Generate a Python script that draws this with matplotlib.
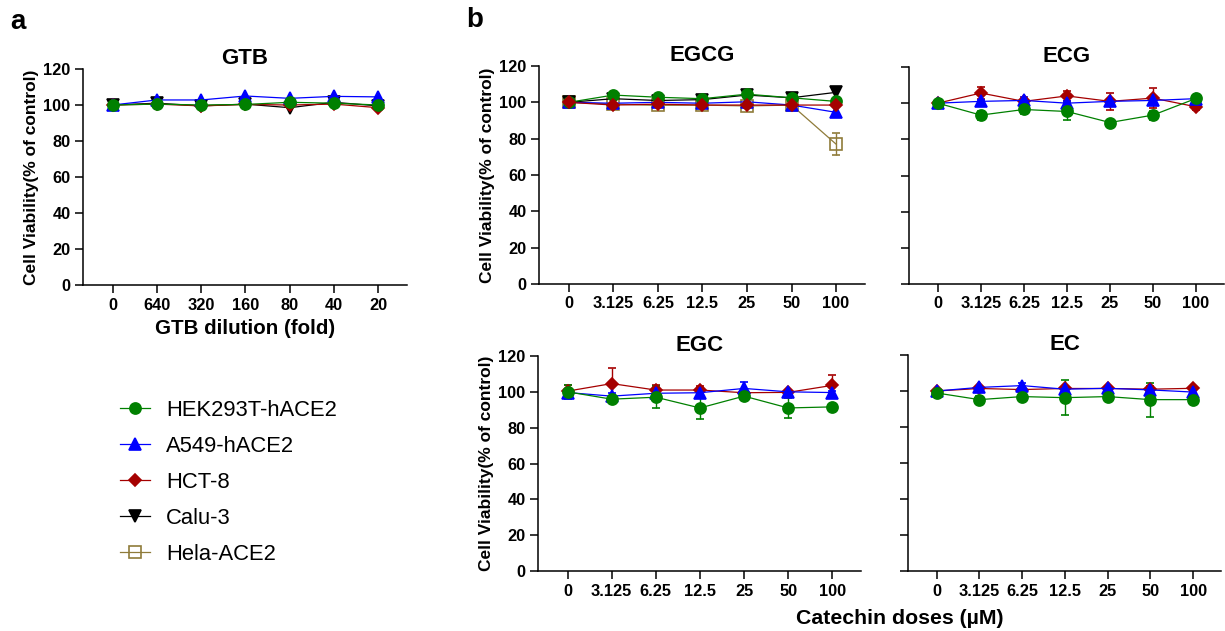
import matplotlib
matplotlib.use("Agg")
import matplotlib.pyplot as plt
import numpy as np

plt.rcParams['font.family'] = ['Liberation Sans', 'DejaVu Sans']

# ---------------------------------------------------------------------------
# data
# ---------------------------------------------------------------------------
gtb_ticks = ['0', '640', '320', '160', '80', '40', '20']
dose_ticks = ['0', '3.125', '6.25', '12.5', '25', '50', '100']

cell_lines = ['HEK293T-hACE2', 'A549-hACE2', 'HCT-8', 'Calu-3', 'Hela-ACE2']

# GTB panel
gtb_hek = [100, 100.5, 100, 100.3, 101.5, 101, 100]
gtb_a549 = [100, 102.8, 102.8, 105, 103.7, 104.8, 104.5]
gtb_hct = [100, 100.5, 99.5, 100.3, 100, 100.5, 98.5]
gtb_calu = [100, 101, 99.5, 100.5, 98.5, 101.5, 99.5]

# EGCG panel
egcg_hek = [100, 104, 102.8, 102, 104.5, 102.5, 100.5]
egcg_a549 = [100, 99.5, 100, 99.5, 100.3, 98.5, 94.5]
egcg_hct = [100, 98.5, 99, 98.5, 98.5, 98.5, 98.5]
egcg_calu = [100, 102, 101, 101.5, 104, 102.5, 105.5]
egcg_hela = [100, 99, 98.3, 98.5, 98, 98.5, 77]
egcg_hela_err = [0, 0, 1, 0, 1, 0, 6]

# ECG panel
ecg_hek = [100, 93.4, 96.5, 95.4, 89.3, 93.4, 102.6]
ecg_hek_err = [1.5, 2.5, 2.5, 4.5, 1, 2.5, 2]
ecg_a549 = [100, 101, 101.5, 100, 101, 101.5, 102.5]
ecg_a549_err = [1, 1, 2, 1, 1, 1, 1]
ecg_hct = [100, 105.6, 101, 104, 101, 102.8, 98]
ecg_hct_err = [1.5, 3.3, 1.5, 2.6, 4.7, 5.5, 2]

# EGC panel
egc_hek = [100, 95.9, 97, 91, 97.6, 91, 91.6]
egc_hek_err = [4, 2, 6, 6.2, 1, 5.7, 1]
egc_a549 = [99.6, 97.6, 99.2, 99.5, 101.9, 100, 99.6]
egc_a549_err = [2, 1.5, 1, 1.5, 3.7, 1, 1]
egc_hct = [100.4, 104.6, 101, 101, 99.5, 99.7, 103.6]
egc_hct_err = [3.6, 8.5, 3, 2.5, 1, 1, 5.9]

# EC panel
ec_hek = [98.9, 95.2, 96.9, 96.3, 96.9, 95.2, 95.2]
ec_hek_err = [1.5, 2, 1, 9.6, 2, 9.4, 1]
ec_a549 = [100, 102, 103, 101, 101.5, 100.6, 99.4]
ec_a549_err = [1, 1, 1.5, 1, 1, 1, 1]
ec_hct = [100, 101.4, 100.8, 101.4, 101.4, 101, 101.5]
ec_hct_err = [1, 1, 1, 1.5, 1, 2, 1]

# ---------------------------------------------------------------------------
# styles
# ---------------------------------------------------------------------------
styles = {
    'HEK293T-hACE2': dict(color='#008000', marker='o', ms=8, mfc='#008000'),
    'A549-hACE2': dict(color='#0000FF', marker='^', ms=8, mfc='#0000FF'),
    'HCT-8': dict(color='#A50000', marker='D', ms=6, mfc='#A50000'),
    'Calu-3': dict(color='#000000', marker='v', ms=8, mfc='#000000'),
    'Hela-ACE2': dict(color='#8F7B3A', marker='s', ms=8.5, mfc='none'),
}

W, H = 1225, 631


def px_axes(fig, left, top, right, bottom):
    return fig.add_axes([left / W, 1 - bottom / H, (right - left) / W, (bottom - top) / H])


def draw(ax, name, vals, err=None, z=2):
    st = styles[name]
    x = np.arange(len(vals))
    ax.errorbar(x, vals, yerr=err, color=st['color'], marker=st['marker'],
                ms=st['ms'], mfc=st['mfc'], mec=st['color'], mew=1.2,
                lw=0.9, elinewidth=1.0, capsize=3, capthick=1.0,
                label=name, zorder=z, clip_on=False)


def style_axes(ax, title, xticks, ylabel=True):
    ax.set_xlim(-0.67, 6.65)
    ax.set_ylim(0, 120)
    ax.set_yticks(range(0, 121, 20))
    ax.set_xticks(range(len(xticks)))
    ax.set_xticklabels(xticks)
    for s in ['top', 'right']:
        ax.spines[s].set_visible(False)
    for s in ['left', 'bottom']:
        ax.spines[s].set_linewidth(1.1)
    ax.tick_params(axis='both', direction='out', length=6, width=1.1,
                   labelsize=11.8, pad=3)
    for lab in ax.get_xticklabels() + ax.get_yticklabels():
        lab.set_fontweight('bold')
    if ylabel:
        ax.set_ylabel('Cell Viability(% of control)', fontsize=12.5,
                      fontweight='bold', labelpad=3)
    else:
        ax.set_yticklabels([])
    ax.set_title(title, fontsize=16, fontweight='bold', pad=2)


fig = plt.figure(figsize=(W / 100, H / 100), dpi=100)

# panel a
ax_a = px_axes(fig, 83, 69, 407, 285)
draw(ax_a, 'Calu-3', gtb_calu)
draw(ax_a, 'HCT-8', gtb_hct)
draw(ax_a, 'A549-hACE2', gtb_a549)
draw(ax_a, 'HEK293T-hACE2', gtb_hek)
style_axes(ax_a, 'GTB', gtb_ticks)
ax_a.set_xlabel('GTB dilution (fold)', fontsize=14.8, fontweight='bold', labelpad=5)

# EGCG
ax1 = px_axes(fig, 539, 66, 865, 284)
draw(ax1, 'Hela-ACE2', egcg_hela, egcg_hela_err)
draw(ax1, 'Calu-3', egcg_calu)
draw(ax1, 'A549-hACE2', egcg_a549)
draw(ax1, 'HEK293T-hACE2', egcg_hek)
draw(ax1, 'HCT-8', egcg_hct)
style_axes(ax1, 'EGCG', dose_ticks)

# ECG
ax2 = px_axes(fig, 909, 67, 1224, 284)
draw(ax2, 'HCT-8', ecg_hct, ecg_hct_err)
draw(ax2, 'A549-hACE2', ecg_a549, ecg_a549_err)
draw(ax2, 'HEK293T-hACE2', ecg_hek, ecg_hek_err)
style_axes(ax2, 'ECG', dose_ticks, ylabel=False)

# EGC
ax3 = px_axes(fig, 538, 356, 861, 571)
draw(ax3, 'HCT-8', egc_hct, egc_hct_err)
draw(ax3, 'A549-hACE2', egc_a549, egc_a549_err)
draw(ax3, 'HEK293T-hACE2', egc_hek, egc_hek_err)
style_axes(ax3, 'EGC', dose_ticks)

# EC
ax4 = px_axes(fig, 908, 355, 1221, 571)
draw(ax4, 'HCT-8', ec_hct, ec_hct_err)
draw(ax4, 'A549-hACE2', ec_a549, ec_a549_err)
draw(ax4, 'HEK293T-hACE2', ec_hek, ec_hek_err)
style_axes(ax4, 'EC', dose_ticks, ylabel=False)

fig.text(900 / W, 1 - 618 / H, 'Catechin doses (\u00b5M)', fontsize=15.3,
         fontweight='bold', ha='center', va='center')

# panel letters
fig.text(10 / W, 1 - 22 / H, 'a', fontsize=20, fontweight='bold', va='center')
fig.text(466 / W, 1 - 20 / H, 'b', fontsize=20, fontweight='bold', va='center')

# legend
handles = []
for name in cell_lines:
    st = styles[name]
    h, = ax_a.plot([], [], color=st['color'], marker=st['marker'], ms=st['ms'],
                   mfc=st['mfc'], mec=st['color'], mew=1.2, lw=0.9)
    handles.append(h)
fig.legend(handles, cell_lines, loc='upper left',
           bbox_to_anchor=(120 / W, 1 - 400 / H), frameon=False, fontsize=15.8,
           handlelength=1.35, handletextpad=0.75, labelspacing=0.68,
           borderpad=0, borderaxespad=0)

fig.savefig('out.png', dpi=100)
